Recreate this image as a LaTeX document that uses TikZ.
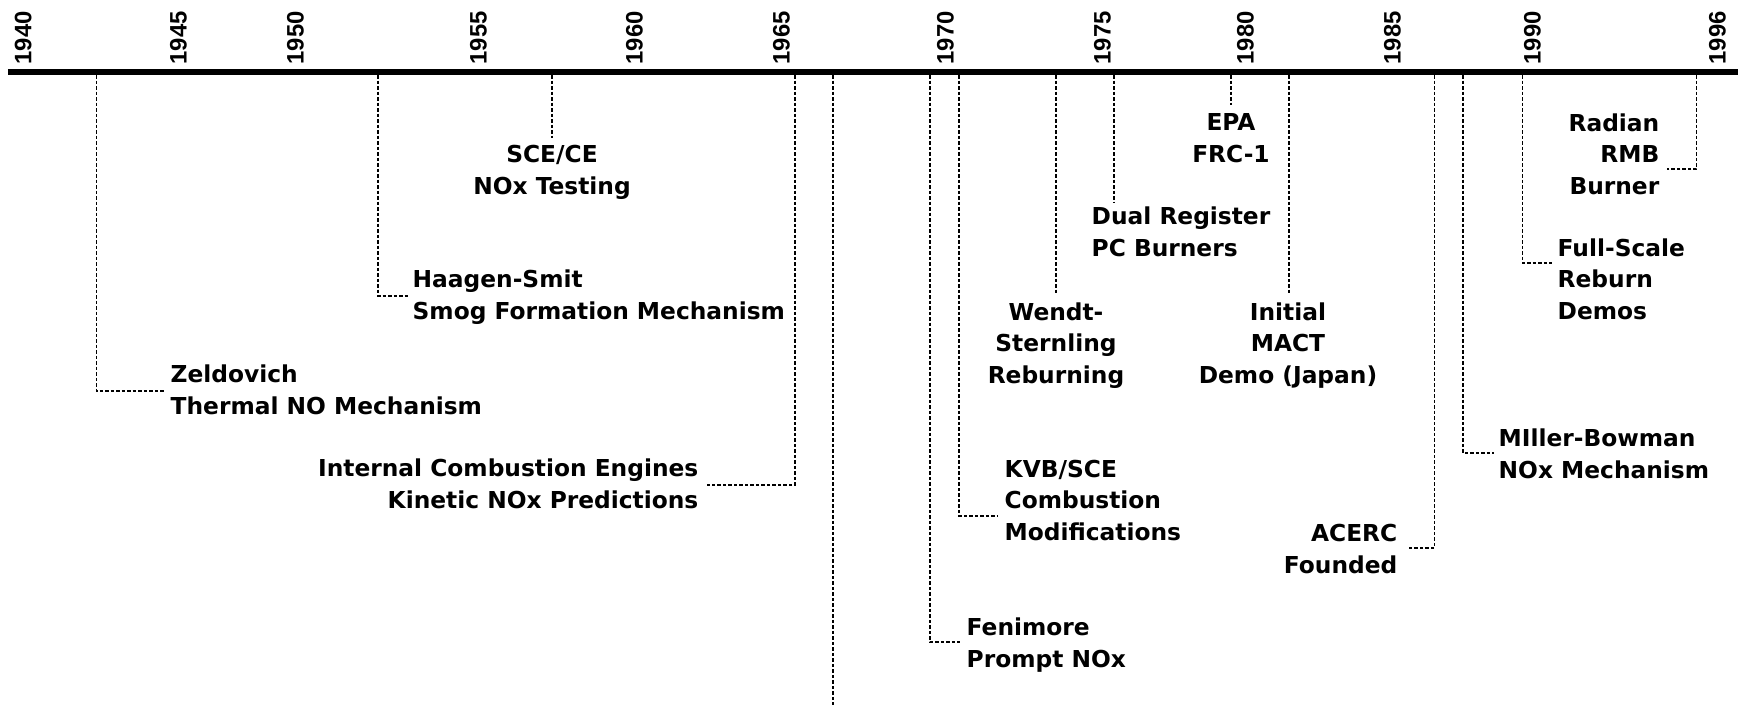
\documentclass[tikz,border=0pt]{standalone}
\usepackage{fontspec}
\newfontfamily\yearfont{Liberation Sans}
\newfontfamily\eventfont{DejaVu Sans}
\usetikzlibrary{positioning}

\tikzset{
  year/.style={rotate=90, anchor=base west, inner sep=0pt,
    font=\yearfont\bfseries\fontsize{6.77pt}{8pt}\selectfont},
  event/.style={inner sep=0pt,
    font=\eventfont\bfseries\fontsize{6.63pt}{8.82pt}\selectfont},
  conn/.style={line width=0.35pt, dash pattern=on 0.035cm off 0.02cm},
}

\begin{document}
\begin{tikzpicture}[x=0.01cm,y=-0.01cm]
\useasboundingbox (0,0) rectangle (1738,705);
\fill[white] (0,0) rectangle (1738,705);
\def\axb{75}

\coordinate (axL) at (8,72);
\coordinate (axR) at (1738,72);
\draw[line width=0.06cm] (axL) -- (axR);

\foreach \yr/\xb in {1940/31.5, 1945/186.5, 1950/303.5, 1955/486.5,
  1960/642.5, 1965/789.5, 1970/953.5, 1975/1110.5, 1980/1253.5,
  1985/1400.5, 1990/1540.5, 1996/1725.5}
  \node[year] (y\yr) at (\xb,65) {\yr};

% left half
\coordinate (zelA) at (96.5,\axb);
\coordinate (zelB) at (164,391);
\node[event, anchor=base west, align=left] (zel) at (170,414)
  {Zeldovich\\Thermal NO Mechanism};
\draw[conn] (zelA) |- (zelB);

\coordinate (haaA) at (378,\axb);
\coordinate (haaB) at (408,296);
\node[event, anchor=base west, align=left] (haa) at (412,319)
  {Haagen-Smit\\Smog Formation Mechanism};
\draw[conn] (haaA) |- (haaB);

\coordinate (sceA) at (552,\axb);
\coordinate (sceB) at (552,138);
\node[event, anchor=base, align=center] (sce) at (552,194)
  {SCE/CE\\NOx Testing};
\draw[conn] (sceA) -- (sceB);

\coordinate (iceA) at (795,\axb);
\coordinate (iceB) at (707,485);
\node[event, anchor=base east, align=right] (ice) at (699,508)
  {Internal Combustion Engines\\Kinetic NOx Predictions};
\draw[conn] (iceA) |- (iceB);

\coordinate (gapA) at (833,\axb);
\coordinate (gapB) at (833,705);
\draw[conn] (gapA) -- (gapB);

% right half
\coordinate (fenA) at (930,\axb);
\coordinate (fenB) at (960,642);
\node[event, anchor=base west, align=left] (fen) at (966,667)
  {Fenimore\\Prompt NOx};
\draw[conn] (fenA) |- (fenB);

\coordinate (kvbA) at (959,\axb);
\coordinate (kvbB) at (998,516);
\node[event, anchor=base west, align=left] (kvb) at (1004,540)
  {KVB/SCE\\Combustion\\Modifications};
\draw[conn] (kvbA) |- (kvbB);

\coordinate (wenA) at (1056,\axb);
\coordinate (wenB) at (1056,293);
\node[event, anchor=base, align=center] (wen) at (1056,383)
  {Wendt-\\Sternling\\Reburning};
\draw[conn] (wenA) -- (wenB);

\coordinate (duaA) at (1114,\axb);
\coordinate (duaB) at (1114,202);
\node[event, anchor=base west, align=left] (dua) at (1091,256)
  {Dual Register\\PC Burners};
\draw[conn] (duaA) -- (duaB);

\coordinate (epaA) at (1231,\axb);
\coordinate (epaB) at (1231,105);
\node[event, anchor=base, align=center] (epa) at (1231,162)
  {EPA\\FRC-1};
\draw[conn] (epaA) -- (epaB);

\coordinate (macA) at (1289,\axb);
\coordinate (macB) at (1289,295);
\node[event, anchor=base, align=center] (mac) at (1288,383)
  {Initial\\MACT\\Demo (Japan)};
\draw[conn] (macA) -- (macB);

\coordinate (aceA) at (1434.5,\axb);
\coordinate (aceB) at (1408,548);
\node[event, anchor=base east, align=right] (ace) at (1398,573)
  {ACERC\\Founded};
\draw[conn] (aceA) |- (aceB);

\coordinate (milA) at (1463,\axb);
\coordinate (milB) at (1494,453);
\node[event, anchor=base west, align=left] (mil) at (1498,478)
  {MIller-Bowman\\NOx Mechanism};
\draw[conn] (milA) |- (milB);

\coordinate (fulA) at (1522.5,\axb);
\coordinate (fulB) at (1552,263);
\node[event, anchor=base west, align=left] (ful) at (1557,319)
  {Full-Scale\\Reburn\\Demos};
\draw[conn] (fulA) |- (fulB);

\coordinate (radA) at (1696.5,\axb);
\coordinate (radB) at (1667,169);
\node[event, anchor=base east, align=right] (rad) at (1660,194)
  {Radian\\RMB\\Burner};
\draw[conn] (radA) |- (radB);
\end{tikzpicture}
\end{document}
